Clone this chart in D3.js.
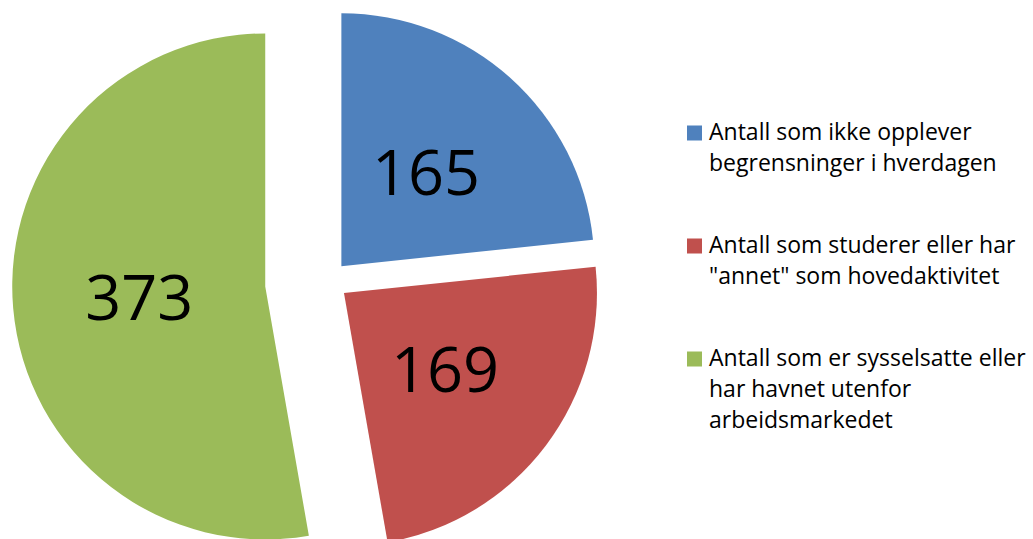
<!DOCTYPE html>
<html>
<head>
<meta charset="utf-8">
<script src="https://cdn.jsdelivr.net/npm/d3@7/dist/d3.min.js"></script>
<style>
  html, body { margin: 0; padding: 0; background: #ffffff; }
  svg { display: block; }
</style>
</head>
<body>
<svg id="chart" width="1033" height="539"></svg>
<script>
// ---- data ----
const categories = [
  "Antall som ikke opplever begrensninger i hverdagen",
  "Antall som studerer eller har \"annet\" som hovedaktivitet",
  "Antall som er sysselsatte eller har havnet utenfor arbeidsmarkedet"
];
const values = [165, 169, 373];
const colors = ["#4F81BD", "#C0504D", "#9BBB59"];
const legendLines = [
  ["Antall som ikke opplever", "begrensninger i hverdagen"],
  ["Antall som studerer eller har", "\"annet\" som hovedaktivitet"],
  ["Antall som er sysselsatte eller", "har havnet utenfor", "arbeidsmarkedet"]
];
const explode = [20, 20, 63];

// ---- layout ----
const svg = d3.select("#chart");
const cx = 328, cy = 281, radius = 253;
const fontFamily = "'Open Sans', 'Noto Sans', sans-serif";

const data = categories.map((c, i) => ({ category: c, value: values[i], color: colors[i], explode: explode[i], lines: legendLines[i] }));

const pie = d3.pie().value(d => d.value).sort(null).startAngle(0).endAngle(2 * Math.PI);
const arc = d3.arc().innerRadius(0).outerRadius(radius);

const arcs = pie(data);

const g = svg.append("g").attr("transform", `translate(${cx},${cy})`);

const slices = g.selectAll("g.slice")
  .data(arcs)
  .join("g")
  .attr("class", "slice")
  .attr("transform", d => {
    const mid = (d.startAngle + d.endAngle) / 2;
    const dx = Math.sin(mid) * d.data.explode;
    const dy = -Math.cos(mid) * d.data.explode;
    return `translate(${dx},${dy})`;
  });

slices.append("path")
  .attr("d", arc)
  .attr("fill", d => d.data.color);

slices.append("text")
  .attr("transform", d => `translate(${arc.centroid(d)})`)
  .attr("text-anchor", "middle")
  .attr("dy", "0.357em")
  .attr("font-family", fontFamily)
  .attr("font-size", 63)
  .attr("fill", "#000")
  .text(d => d.data.value);

// ---- legend ----
const legendX = 687, legendY = 140, lineH = 31, entryGap = 51, sw = 15;
const legend = svg.append("g").attr("transform", `translate(${legendX},${legendY})`);
let yOff = 0;
data.forEach((d, i) => {
  const item = legend.append("g").attr("transform", `translate(0,${yOff})`);
  item.append("rect")
    .attr("x", 0).attr("y", -sw + 0.5)
    .attr("width", sw).attr("height", sw)
    .attr("fill", d.color);
  const t = item.append("text")
    .attr("x", 22)
    .attr("font-family", fontFamily)
    .attr("font-size", 23)
    .attr("fill", "#000");
  d.lines.forEach((ln, j) => {
    t.append("tspan").attr("x", 22).attr("y", j * lineH).text(ln);
  });
  yOff += d.lines.length * lineH + entryGap;
});
</script>
</body>
</html>
